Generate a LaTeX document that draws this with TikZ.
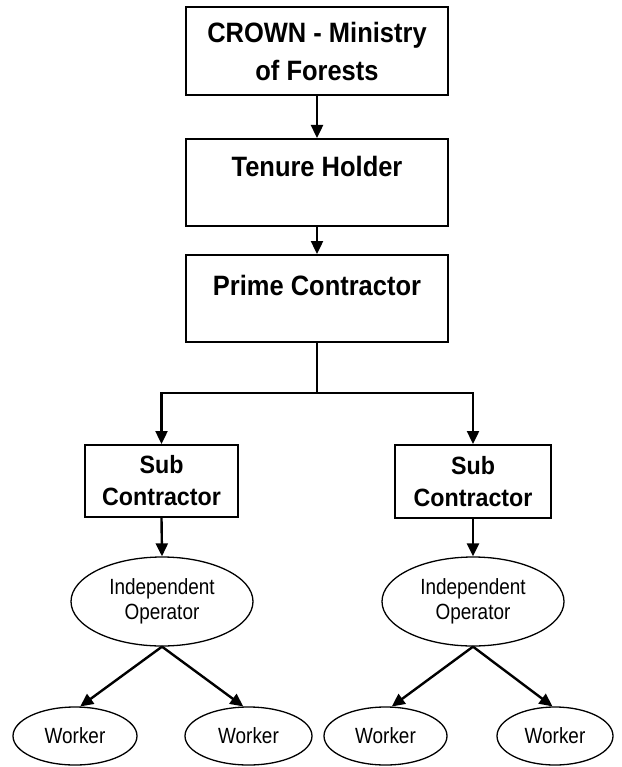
\documentclass[tikz,border=0pt]{standalone}
\usepackage{fontspec}
\setmainfont{Liberation Sans}
\usetikzlibrary{arrows.meta,shapes.geometric}
\newcommand{\nbold}[1]{\scalebox{0.91}[1]{#1}}
\newcommand{\nsub}[1]{\scalebox{0.93}[1]{#1}}
\newcommand{\nreg}[1]{\scalebox{0.86}[1]{#1}}
\begin{document}
\begin{tikzpicture}[x=1pt,y=-1pt,
  bigbox/.style={draw,line width=2pt,rectangle,minimum width=262pt,inner sep=0pt,
    font=\fontsize{28}{38}\selectfont\bfseries,align=center},
  subbox/.style={draw,line width=2pt,rectangle,inner sep=0pt,
    font=\fontsize{25}{32}\selectfont\bfseries,align=center},
  opell/.style={draw,line width=1.3pt,ellipse,inner sep=0pt,
    minimum width=182pt,minimum height=89pt,
    font=\fontsize{22}{25}\selectfont,align=center},
  wkell/.style={draw,line width=1.3pt,ellipse,inner sep=0pt,minimum height=58pt,
    font=\fontsize{22}{25}\selectfont},
  arr/.style={line width=2.4pt,-{Triangle[length=13pt,width=12pt]}},
  ln/.style={line width=2.4pt}]
\useasboundingbox (0,0) rectangle (621,767);
\node[bigbox,minimum height=88pt] (crown) at (317,51) {\nbold{CROWN - Ministry}\\\nbold{of Forests}};
\node[bigbox,text height=38pt,text depth=49pt] (tenure) at (317,182.5) {\nbold{Tenure Holder}};
\node[bigbox,text height=40pt,text depth=47pt] (prime) at (317,298.5) {\nbold{Prime Contractor}};
\node[subbox,minimum width=153pt,minimum height=72pt] (sub1) at (161.5,481) {\nsub{Sub}\\\nsub{Contractor}};
\node[subbox,minimum width=156pt,minimum height=73pt] (sub2) at (473,481.5) {\nsub{Sub}\\\nsub{Contractor}};
\node[opell] (io1) at (162,601.5) {\nreg{Independent}\\\nreg{Operator}};
\node[opell] (io2) at (473,601.5) {\nreg{Independent}\\\nreg{Operator}};
\node[wkell,minimum width=124pt] (w1) at (75,736) {\nreg{Worker}};
\node[wkell,minimum width=127pt] (w2) at (248.5,736) {\nreg{Worker}};
\node[wkell,minimum width=123pt] (w3) at (385.5,736) {\nreg{Worker}};
\node[wkell,minimum width=116pt] (w4) at (555,736) {\nreg{Worker}};
\coordinate (j) at (317,393);
\draw[arr] (crown.south) -- (tenure.north);
\draw[arr] (tenure.south) -- (prime.north);
\draw[ln] (prime.south) -- (j);
\draw[arr] (j) -| (sub1.north);
\draw[arr] (j) -| (sub2.north);
\draw[arr] (sub1.south) -- (io1.north);
\draw[arr] (sub2.south) -- (io2.north);
\draw[arr] (io1.south) -- (w1.80);
\draw[arr] (io1.south) -- (w2.100);
\draw[arr] (io2.south) -- (w3.78);
\draw[arr] (io2.south) -- (w4.95);
\end{tikzpicture}
\end{document}
